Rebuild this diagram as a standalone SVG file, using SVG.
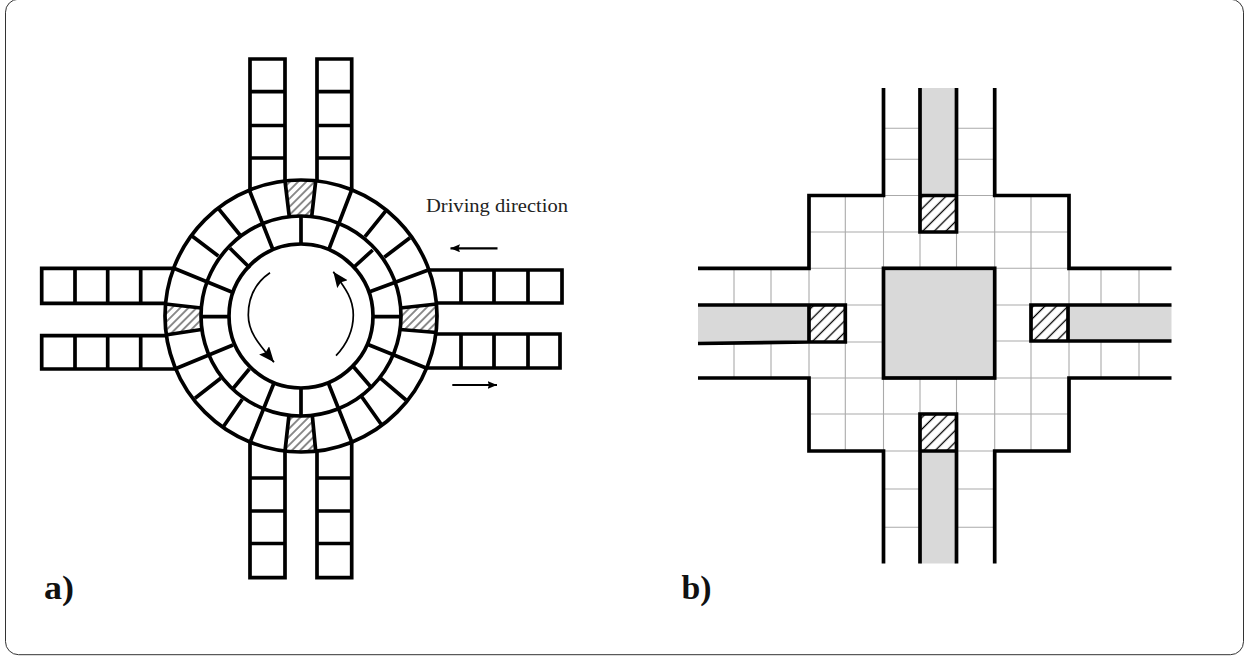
<svg xmlns="http://www.w3.org/2000/svg" width="1252" height="657" viewBox="0 0 1252 657">
<style>
.k{fill:none;stroke:#000;stroke-width:3.7;stroke-linecap:square;stroke-linejoin:miter}
.kb{fill:none;stroke:#000;stroke-width:3.7;stroke-linecap:butt;stroke-linejoin:miter}
.g{fill:none;stroke:#aaa;stroke-width:1.1}
.f{fill:#d9d9d9;stroke:none}
.a{fill:none;stroke:#000;stroke-width:1.7}
.d{fill:none;stroke:#000;stroke-width:2.2}
.t{font-family:"Liberation Serif",serif;fill:#222;font-size:18px}
.l{font-family:"Liberation Serif",serif;font-weight:bold;fill:#111;font-size:34px}
</style>
<defs>
<pattern id="ha" width="5.8" height="5.8" patternUnits="userSpaceOnUse" patternTransform="rotate(45)"><rect width="5.8" height="5.8" fill="#fff"/><line x1="2.9" y1="0" x2="2.9" y2="5.8" stroke="#000" stroke-width="0.9"/></pattern>
<pattern id="hb" width="8.2" height="8.2" patternUnits="userSpaceOnUse" patternTransform="rotate(45)"><rect width="8.2" height="8.2" fill="#fff"/><line x1="4.1" y1="0" x2="4.1" y2="8.2" stroke="#000" stroke-width="1.3"/></pattern>
<marker id="big" markerUnits="userSpaceOnUse" markerWidth="17" markerHeight="14" refX="15.5" refY="6.5" orient="auto"><path d="M0 0L15.5 6.5L0 13L2.5 6.5Z" fill="#000"/></marker>
<marker id="small" markerUnits="userSpaceOnUse" markerWidth="11" markerHeight="9" refX="9.5" refY="4" orient="auto"><path d="M0 0L9.5 4L0 8L1.5 4Z" fill="#000"/></marker>
</defs>
<rect id="frame" x="5.5" y="-0.8" width="1238" height="655.5" rx="13" ry="13" fill="#fff" stroke="#333" stroke-width="1"/>
<g id="panel-a">
<g id="roads-a">
<path class="k" d="M250 200V59H285V200M250 91.7H285M250 125.5H285M250 158H285"/>
<path class="k" d="M317 200V59H351.7V200M317 91.7H351.7M317 125.5H351.7M317 158H351.7"/>
<path class="k" d="M250 430V577.7H285V430M250 478H285M250 511H285M250 543.5H285"/>
<path class="k" d="M317 430V577.7H351.7V430M317 478H351.7M317 511H351.7M317 543.5H351.7"/>
<path class="k" d="M180 268.3H41.7V303.3H180M75 268.3V303.3M107.7 268.3V303.3M140.7 268.3V303.3"/>
<path class="k" d="M180 335.7H41.7V369H180M75 335.7V369M107.7 335.7V369M140.7 335.7V369"/>
<path class="k" d="M420 270H562V303H420M461 270V303M494 270V303M528 270V303"/>
<path class="k" d="M420 334H560V368H420M461 334V368M494 334V368M528 334V368"/>
</g>
<g id="ring">
<circle cx="301" cy="316" r="136" fill="#fff"/>
<path fill="url(#ha)" d="M285 181A136 136 0 0 1 315.7 181L311.7 216.5A100 100 0 0 0 289.3 216.7Z"/>
<path fill="url(#ha)" d="M285 451A136 136 0 0 0 315.7 451L312.3 415.4A100 100 0 0 1 289 415.3Z"/>
<path fill="url(#ha)" d="M165.5 304A136 136 0 0 0 165.5 335L201.5 329.5A100 100 0 0 1 201.3 308Z"/>
<path fill="url(#ha)" d="M436.7 304A136 136 0 0 1 436.7 332.5L400.2 329.5A100 100 0 0 0 400.4 308Z"/>
<circle class="kb" cx="301" cy="316" r="136"/>
<circle class="kb" cx="301" cy="316" r="100"/>
<circle class="kb" cx="301" cy="316" r="72"/>
<path class="kb" d="M285 181L289.3 216.7M315.7 181L311.7 216.5M285 451L289 415.3M315.7 451L312.3 415.4M165.5 304L201.3 308M165.5 335L201.5 329.5M436.7 304L400.4 308M436.7 332.5L400.2 329.5"/>
<path class="kb" d="M249.3 190L272.7 249M351.7 190L329 249M172.7 267.7L233 292.5M428.3 270L369 292M176.7 368.3L233 345M426.7 368.3L368 344.5M250.7 440.7L274 383M351.7 441.7L328.3 383"/>
<path class="kb" d="M218.3 208.3L240 235M386 210.7L365 236.7M190.7 235L218.3 256M410 237.7L384.3 257.3M195 398.3L220.7 378.3M406 400L380.7 378.3M223.3 426.7L242.3 399.3M381.7 425L361.7 396.7"/>
<path class="kb" d="M301 216L301 244M301 388L301 416M201 316.7H229M373 316.7H401M230 248.3L250 268M372.7 250L353 268M249.3 369L233.3 388.3M352 365L370.7 386.7"/>
</g>
<g id="arrows-a">
<path class="a" marker-end="url(#big)" d="M270 272.7C255 283 248.3 298 248.3 315C248.3 332 258 343 274 362.3"/>
<path class="a" marker-end="url(#big)" d="M336 355.7C347 344 353.3 331 353.3 315C353.3 299 346 289 333.3 271.7"/>
<path class="d" marker-end="url(#small)" d="M497.5 248.3H450.5"/>
<path class="d" marker-end="url(#small)" d="M452.3 385H497"/>
</g>
<text class="t" x="426" y="211.5" textLength="142" lengthAdjust="spacingAndGlyphs">Driving direction</text>
<text class="l" x="44" y="599" textLength="30" lengthAdjust="spacingAndGlyphs">a)</text>
</g>
<g id="panel-b">
<g id="fills-b">
<rect class="f" x="920" y="88" width="36.5" height="107.5"/>
<rect class="f" x="920" y="451" width="36.5" height="112.5"/>
<path class="f" d="M698 305H809V341.7L698 343.5Z"/>
<rect class="f" x="1068" y="305" width="103.5" height="36"/>
<rect class="f" x="883.5" y="268.3" width="111" height="109.7"/>
</g>
<g id="grid-b">
<path class="g" d="M883.5 128.3H920M956.5 128.3H994.7M883.5 159.3H920M956.5 159.3H994.7M883.5 489H920M956.5 489H994.7M883.5 527.3H920M956.5 527.3H994.7"/>
<path class="g" d="M809 195.5H1069M809 232H1069M809 268.3H883.5M994.7 268.3H1069M845 305H883.5M994.7 305H1031M845 342H883.5M994.7 341H1031M809 378H883.5M994.7 378H1069M809 414H1069M809 451H1069"/>
<path class="g" d="M845.3 195.5V451M883.5 195.5V451M920 232V268M956.5 232V268M920 378V414M956.5 378V414M994.7 195.5V451M1031 195.5V451M809 268.3V378M1069 268.3V378"/>
<path class="g" d="M734 268.3V305M771 268.3V305M734 342V378M771 342V378M1101 268.3V305M1139 268.3V305M1101 341V378M1139 341V378"/>
</g>
<g id="hatch-b">
<rect x="920" y="195.5" width="36.5" height="36.5" fill="url(#hb)"/>
<rect x="920" y="414" width="36.5" height="37" fill="url(#hb)"/>
<rect x="809" y="305" width="36.3" height="37" fill="url(#hb)"/>
<rect x="1031" y="305" width="37" height="36" fill="url(#hb)"/>
</g>
<g id="walls-b">
<path class="kb" d="M883.5 88V195.5H809V268.3H698M994.7 88V195.5H1069V268.3H1171.5M883.5 563.5V451H809V378H698M994.7 563.5V451H1069V378H1171.5"/>
<path class="kb" d="M920 88V232H956.5V88M920 195.5H956.5"/>
<path class="kb" d="M920 563.5V414H956.5V563.5M920 451H956.5"/>
<path class="kb" d="M698 305H845.3V342H809L698 343.5M809 305V342"/>
<path class="kb" d="M1171.5 305H1031V341H1171.5M1068 305V341"/>
<rect class="kb" x="883.5" y="268.3" width="111.2" height="109.7"/>
</g>
<text class="l" x="681.5" y="599" textLength="30" lengthAdjust="spacingAndGlyphs">b)</text>
</g>
</svg>
